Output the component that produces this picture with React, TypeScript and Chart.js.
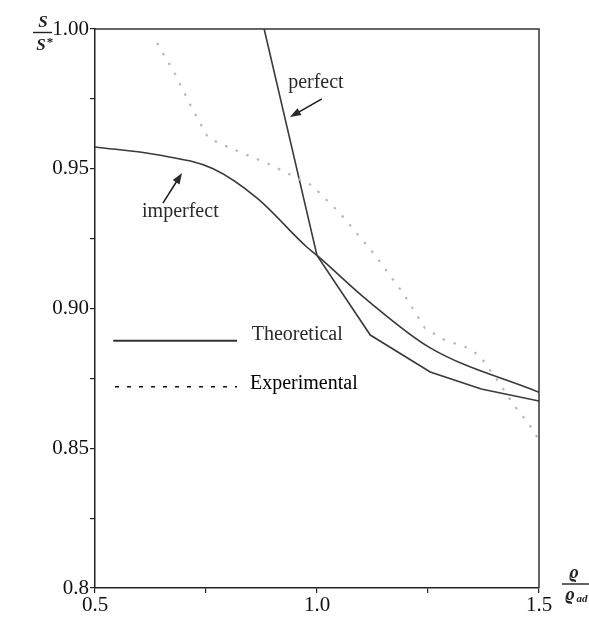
import React, { useEffect, useRef } from "react";
import { Chart, registerables } from "chart.js";

Chart.register(...registerables);

// Theoretical curve for the perfect structure (kinked at rho/rho_ad = 1)
const perfectX = [0.881, 1.0, 1.12, 1.255, 1.37, 1.5];
const perfectY = [1.0, 0.919, 0.8905, 0.8773, 0.8712, 0.8669];

// Theoretical curve for the imperfect structure
const imperfectX = [0.5, 0.64, 0.766, 0.865, 0.977, 1.0, 1.113, 1.254, 1.5];
const imperfectY = [0.9578, 0.955, 0.95, 0.9395, 0.922, 0.919, 0.903, 0.886, 0.87];

// Measured values
const experimentalX = [0.64, 0.68, 0.714, 0.755, 0.811, 0.887, 0.989, 1.052, 1.126, 1.194, 1.243, 1.284, 1.338, 1.367, 1.412, 1.441, 1.48, 1.5];
const experimentalY = [0.995, 0.984, 0.973, 0.961, 0.957, 0.952, 0.944, 0.934, 0.92, 0.9055, 0.893, 0.889, 0.886, 0.883, 0.873, 0.866, 0.858, 0.853];

// Axis tick labels (keyed by value * 1000)
const yTickLabels: Record<number, string> = { 1000: "1.00", 950: "0.95", 900: "0.90", 850: "0.85", 800: "0.8" };
const xTickLabels: Record<number, string> = { 500: "0.5", 1000: "1.0", 1500: "1.5" };

const pts = (xs: number[], ys: number[]) => xs.map((x, i) => ({ x, y: ys[i] }));

const SERIF = "'Liberation Serif', 'DejaVu Serif', serif";

function arrow(ctx: CanvasRenderingContext2D, x1: number, y1: number, x2: number, y2: number) {
  const a = Math.atan2(y2 - y1, x2 - x1);
  const len = 11;
  const w = 4;
  ctx.beginPath();
  ctx.moveTo(x1, y1);
  ctx.lineTo(x2 - Math.cos(a) * len * 0.6, y2 - Math.sin(a) * len * 0.6);
  ctx.stroke();
  ctx.beginPath();
  ctx.moveTo(x2, y2);
  ctx.lineTo(x2 - Math.cos(a) * len + Math.sin(a) * w, y2 - Math.sin(a) * len - Math.cos(a) * w);
  ctx.lineTo(x2 - Math.cos(a) * len - Math.sin(a) * w, y2 - Math.sin(a) * len + Math.cos(a) * w);
  ctx.closePath();
  ctx.fill();
}

const decorations = {
  id: "decorations",
  afterDatasetsDraw(chart: any) {
    const { ctx, chartArea, scales } = chart;
    const X = (v: number) => scales.x.getPixelForValue(v);
    const Y = (v: number) => scales.y.getPixelForValue(v);
    ctx.save();

    // frame: top and right edges
    ctx.strokeStyle = "#333";
    ctx.lineWidth = 1.5;
    ctx.beginPath();
    ctx.moveTo(chartArea.left, chartArea.top);
    ctx.lineTo(chartArea.right, chartArea.top);
    ctx.lineTo(chartArea.right, chartArea.bottom);
    ctx.stroke();

    // curve labels and arrows
    ctx.fillStyle = "#2a2a2a";
    ctx.strokeStyle = "#1a1a1a";
    ctx.lineWidth = 1.5;
    ctx.font = `20px ${SERIF}`;
    ctx.textAlign = "left";
    ctx.textBaseline = "alphabetic";
    ctx.fillText("perfect", X(0.935), Y(0.979));
    arrow(ctx, X(1.011), Y(0.975), X(0.939), Y(0.9685));
    ctx.fillText("imperfect", X(0.606), Y(0.9327));
    arrow(ctx, X(0.653), Y(0.9377), X(0.696), Y(0.9485));

    // key
    ctx.strokeStyle = "#333";
    ctx.lineWidth = 2;
    ctx.beginPath();
    ctx.moveTo(X(0.541), Y(0.8885));
    ctx.lineTo(X(0.82), Y(0.8885));
    ctx.stroke();
    ctx.fillStyle = "#2a2a2a";
    ctx.fillText("Theoretical", X(0.853), Y(0.8885) - 1);
    ctx.strokeStyle = "#111";
    ctx.lineWidth = 1.5;
    ctx.setLineDash([4, 8]);
    ctx.beginPath();
    ctx.moveTo(X(0.545), Y(0.872));
    ctx.lineTo(X(0.82), Y(0.872));
    ctx.stroke();
    ctx.setLineDash([]);
    ctx.fillStyle = "#000";
    ctx.fillText("Experimental", X(0.849), Y(0.872) + 2);

    // axis titles as stacked fractions
    ctx.fillStyle = "#222";
    ctx.strokeStyle = "#222";
    ctx.lineWidth = 1.4;
    ctx.textAlign = "center";
    ctx.font = `italic bold 17px ${SERIF}`;
    ctx.fillText("S", 43, 27);
    ctx.beginPath();
    ctx.moveTo(33, 32.5);
    ctx.lineTo(52, 32.5);
    ctx.stroke();
    ctx.fillText("S", 41, 50);
    ctx.font = `bold 13px ${SERIF}`;
    ctx.fillText("*", 50, 46);

    ctx.font = `italic bold 18px ${SERIF}`;
    ctx.fillText("ϱ", 574, 578);
    ctx.beginPath();
    ctx.moveTo(562, 584);
    ctx.lineTo(589, 584);
    ctx.stroke();
    ctx.fillText("ϱ", 570, 600);
    ctx.font = `italic bold 11px ${SERIF}`;
    ctx.fillText("ad", 582, 602);

    ctx.restore();
  },
};

export default function App() {
  const ref = useRef<HTMLCanvasElement>(null);

  useEffect(() => {
    if (!ref.current) return;
    const chart = new Chart(ref.current, {
      type: "scatter",
      data: {
        datasets: [
          {
            label: "Experimental",
            data: pts(experimentalX, experimentalY),
            showLine: true,
            borderColor: "#b8b8b8",
            borderWidth: 2.2,
            borderDash: [2.5, 9],
            pointRadius: 0,
            tension: 0,
          },
          {
            label: "perfect",
            data: pts(perfectX, perfectY),
            showLine: true,
            borderColor: "#3a3a3a",
            borderWidth: 1.6,
            pointRadius: 0,
            tension: 0,
          },
          {
            label: "imperfect",
            data: pts(imperfectX, imperfectY),
            showLine: true,
            borderColor: "#3a3a3a",
            borderWidth: 1.6,
            pointRadius: 0,
            cubicInterpolationMode: "monotone",
          },
        ],
      },
      options: {
        responsive: false,
        animation: false,
        layout: { padding: { top: 29, right: 50, left: 0, bottom: 0 } },
        plugins: { legend: { display: false }, tooltip: { enabled: false } },
        scales: {
          x: {
            type: "linear",
            min: 0.5,
            max: 1.5,
            afterFit: (s: any) => {
              s.height = 32;
            },
            border: { display: true, color: "#222", width: 1.5 },
            grid: { display: true, drawOnChartArea: false, drawTicks: true, tickLength: 5, color: "#222", lineWidth: 1.2 },
            ticks: {
              stepSize: 0.25,
              autoSkip: false,
              maxRotation: 0,
              padding: 0,
              color: "#111",
              font: { family: SERIF, size: 21 },
              callback: (v: any) => xTickLabels[Math.round(Number(v) * 1000)] ?? "",
            },
          },
          y: {
            type: "linear",
            min: 0.8,
            max: 1.0,
            afterFit: (s: any) => {
              s.width = 95;
            },
            border: { display: true, color: "#222", width: 1.5 },
            grid: { display: true, drawOnChartArea: false, drawTicks: true, tickLength: 5, color: "#222", lineWidth: 1.2 },
            ticks: {
              stepSize: 0.025,
              autoSkip: false,
              padding: 1,
              color: "#111",
              font: { family: SERIF, size: 21 },
              callback: (v: any) => yTickLabels[Math.round(Number(v) * 1000)] ?? "",
            },
          },
        },
      },
      plugins: [decorations],
    } as any);
    return () => chart.destroy();
  }, []);

  return (
    <div style={{ position: "absolute", left: 0, top: 0, width: 589, height: 620, background: "#fff" }}>
      <canvas ref={ref} width={589} height={620} style={{ display: "block" }} />
    </div>
  );
}
